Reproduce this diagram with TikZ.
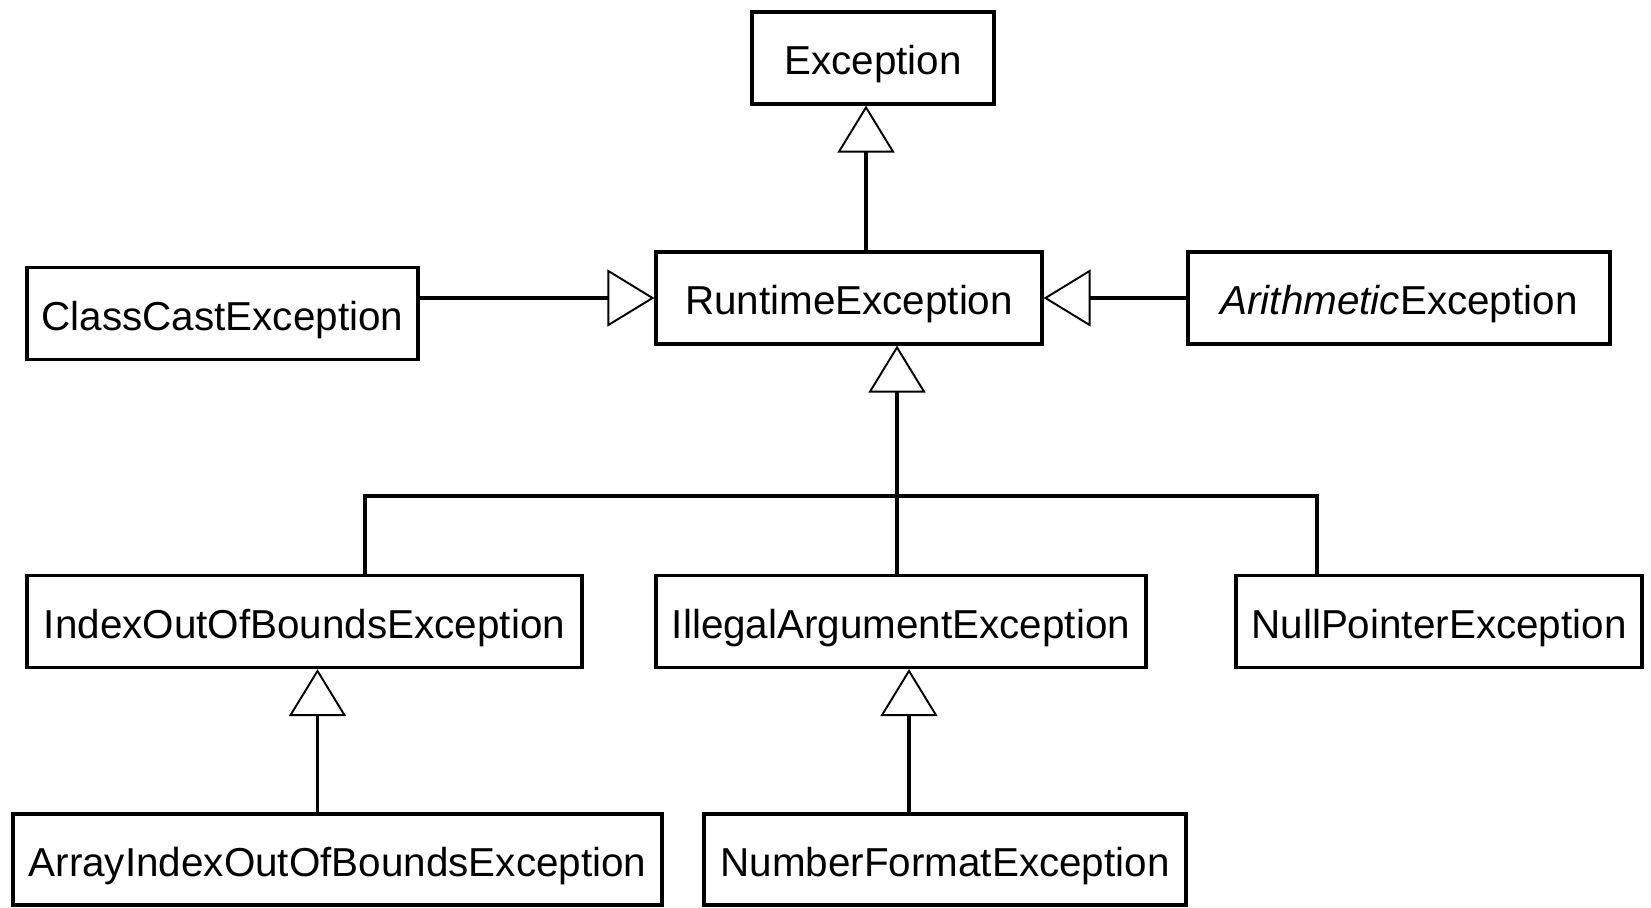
\documentclass[tikz,border=0pt]{standalone}
\usepackage{fontspec}
\setmainfont{Liberation Sans}
\usetikzlibrary{arrows.meta}
\newlength\px
\setlength\px{0.02cm}

\begin{document}
\begin{tikzpicture}[line width=1.8pt, x=0.02cm, y=-0.02cm,
  cls/.style={draw, inner sep=0pt, minimum height=92\px, text height=19.3pt, text depth=0pt,
    font=\fontsize{23}{26}\selectfont},
  isa/.style={-{Triangle[open, length=0.94cm, width=1.14cm, line width=1.1pt]}}]
  \useasboundingbox (0,0) rectangle (1651,907);
  % classes, top row down
  \node[cls, minimum width=242\px] (exc) at (873,58) {Exception};
  \node[cls, minimum width=386\px] (runtime) at (849,298) {RuntimeException};
  \node[cls, minimum width=391\px] (classcast) at (222.5,313.5) {ClassCastException};
  \node[cls, minimum width=422\px] (arith) at (1399,298) {{\itshape Arithmetic}Exception};
  \node[cls, minimum width=555\px] (index) at (304.5,621.5) {IndexOutOfBoundsException};
  \node[cls, minimum width=490\px] (illegal) at (901,621.5) {IllegalArgumentException};
  \node[cls, minimum width=406\px] (nullp) at (1439,621.5) {NullPointerException};
  \node[cls, minimum width=649\px, minimum height=91\px] (array) at (337.5,859.5) {ArrayIndexOutOfBoundsException};
  \node[cls, minimum width=482\px, minimum height=91\px] (numfmt) at (945,859.5) {NumberFormatException};
  % generalisations
  \coordinate (e1) at ([xshift=-7\px]exc.south);
  \draw[isa] (e1 |- runtime.north) -- (e1);
  \draw[isa] (classcast.east |- runtime.west) -- (runtime.west);
  \draw[isa] (arith.west) -- (runtime.east);
  % shared tree under RuntimeException
  \coordinate (bus) at (897,496);
  \coordinate (bl) at (365,496);
  \coordinate (br) at (1317,496);
  \draw[isa] (bus) -- (runtime.south -| bus);
  \draw (index.north -| bl) -- (bl) -- (br) -- (nullp.north -| br);
  \draw (illegal.north -| bus) -- (bus);
  % bottom row
  \coordinate (a1) at ([xshift=-20\px]array.north);
  \draw[isa] (a1) -- (a1 |- index.south);
  \coordinate (n1) at ([xshift=-36\px]numfmt.north);
  \draw[isa] (n1) -- (n1 |- illegal.south);
\end{tikzpicture}
\end{document}
